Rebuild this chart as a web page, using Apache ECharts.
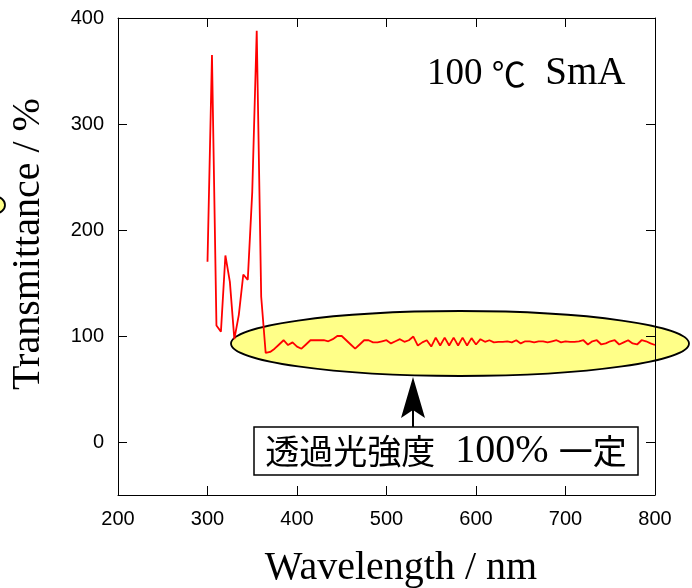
<!DOCTYPE html>
<html>
<head>
<meta charset="utf-8">
<script src="https://cdn.jsdelivr.net/npm/echarts@6/dist/echarts.min.js"></script>
<style>
html,body{margin:0;padding:0;background:#fff;}
#chart{width:692px;height:588px;}
</style>
</head>
<body>
<div id="chart"></div>
<script>
const wavelength = [300,305,310,315,320,325,330,335,340,345,350,355,360,365,370,375,380,385,390,395,
400,405,410,415,420,425,430,435,440,445,450,455,460,465,470,475,480,485,490,495,
500,505,510,515,520,525,530,535,540,545,550,555,560,565,570,575,580,585,590,595,
600,605,610,615,620,625,630,635,640,645,650,655,660,665,670,675,680,685,690,695,
700,705,710,715,720,725,730,735,740,745,750,755,760,765,770,775,780,785,790,795,800];
const transmittance = [170,365,110,104,176,151,97,120,158,153,236,388,137,84,85,88,92,96,91.5,94,
90,88,92,96,96,96,96,95,97,100,100,96,92,88,92,96,96,94,94,95,
96,93,95,97,94.5,96,99.5,91,94,96,90,98.5,91,98.5,91,98.5,91,98.5,91,98,
92,97,94.5,96,94,94.5,94.5,95,94,96,93,95,95,94,95,95,94,95,96,94,
95,94.5,94.5,95,96,92,95,96,92,93,95,96,92,94,96,93,92,96,95,93,91.5];
const xTicks = [200,300,400,500,600,700,800];
const yTicks = [0,100,200,300,400];

const chart = echarts.init(document.getElementById('chart'), null, {renderer:'canvas'});
const tickFont = {fontFamily:'"Liberation Sans Narrow","Liberation Sans",Arial,sans-serif', fontSize:20, color:'#000'};
const serif = '"Liberation Serif","Times New Roman",serif';

function tickCfg(custom){
  const t = {show:true, inside:true, length:9, lineStyle:{color:'#000', width:1}};
  if (custom) t.customValues = custom;
  return t;
}
const lineCfg = {show:true, onZero:false, lineStyle:{color:'#000', width:1}};

chart.setOption({
  animation:false,
  backgroundColor:'#fff',
  grid:{left:118, right:37, top:18, bottom:93, containLabel:false},
  xAxis:[
    {type:'value', min:200, max:800, interval:100, position:'bottom',
      axisLine:lineCfg, axisTick:tickCfg(xTicks), splitLine:{show:false},
      axisLabel:Object.assign({margin:14, customValues:xTicks}, tickFont)},
    {type:'value', min:200, max:800, interval:100, position:'top',
      axisLine:lineCfg, axisTick:tickCfg(xTicks), splitLine:{show:false},
      axisLabel:{show:false}}
  ],
  yAxis:[
    {type:'value', min:-50, max:400, position:'left',
      axisLine:lineCfg, axisTick:tickCfg(yTicks), splitLine:{show:false},
      axisLabel:Object.assign({margin:14, customValues:yTicks}, tickFont)},
    {type:'value', min:-50, max:400, position:'right',
      axisLine:lineCfg, axisTick:tickCfg(yTicks), splitLine:{show:false},
      axisLabel:{show:false}}
  ],
  series:[{
    type:'line',
    z:10,
    showSymbol:false,
    symbol:'none',
    data: wavelength.map((w,i)=>[w, transmittance[i]]),
    lineStyle:{color:'#ff0000', width:1.8},
    itemStyle:{color:'#ff0000'}
  }],
  graphic:[
    {type:'ellipse', z:-1, shape:{cx:460, cy:343.5, rx:229, ry:32.5},
      style:{fill:'#ffff88', stroke:'#000', lineWidth:1.8}},
    {type:'ellipse', z:-1, shape:{cx:-5, cy:205, rx:10, ry:8.5},
      style:{fill:'#ffff88', stroke:'#000', lineWidth:1.8}},
    {type:'line', z:20, shape:{x1:413, y1:408, x2:413, y2:428}, style:{stroke:'#000', lineWidth:2}},
    {type:'polygon', z:20, shape:{points:[[413,377],[401,418],[413,410],[425,418]]}, style:{fill:'#000'}},
    {type:'rect', z:20, shape:{x:254, y:427, width:384, height:48}, style:{fill:'#fff', stroke:'#000', lineWidth:1.5}},
    {type:'text', z:21, x:446, y:451, style:{
      text:'{c|透過光強度}{l|  100% }{c|一定}', align:'center', verticalAlign:'middle',
      rich:{c:{fontFamily:'"Noto Sans CJK JP",sans-serif', fontSize:34, fill:'#000'},
            l:{fontFamily:serif, fontSize:40, fill:'#000'}}
    }},
    {type:'text', z:21, x:427, y:74, style:{
      text:'{l|100 }{c|℃}{s|  SmA}', align:'left', verticalAlign:'middle',
      rich:{c:{fontFamily:'"Noto Sans CJK JP",sans-serif', fontSize:34, fill:'#000'},
            l:{fontFamily:serif, fontSize:37, fill:'#000'},
            s:{fontFamily:serif, fontSize:39, fill:'#000'}}
    }},
    {type:'text', z:21, x:28, y:244, rotation:Math.PI/2, style:{
      text:'Transmittance / %', align:'center', verticalAlign:'middle',
      font:'40px ' + serif, fill:'#000'}},
    {type:'text', z:21, x:401, y:568, style:{
      text:'Wavelength / nm', align:'center', verticalAlign:'middle',
      font:'40px ' + serif, fill:'#000'}}
  ]
});
</script>
</body>
</html>
